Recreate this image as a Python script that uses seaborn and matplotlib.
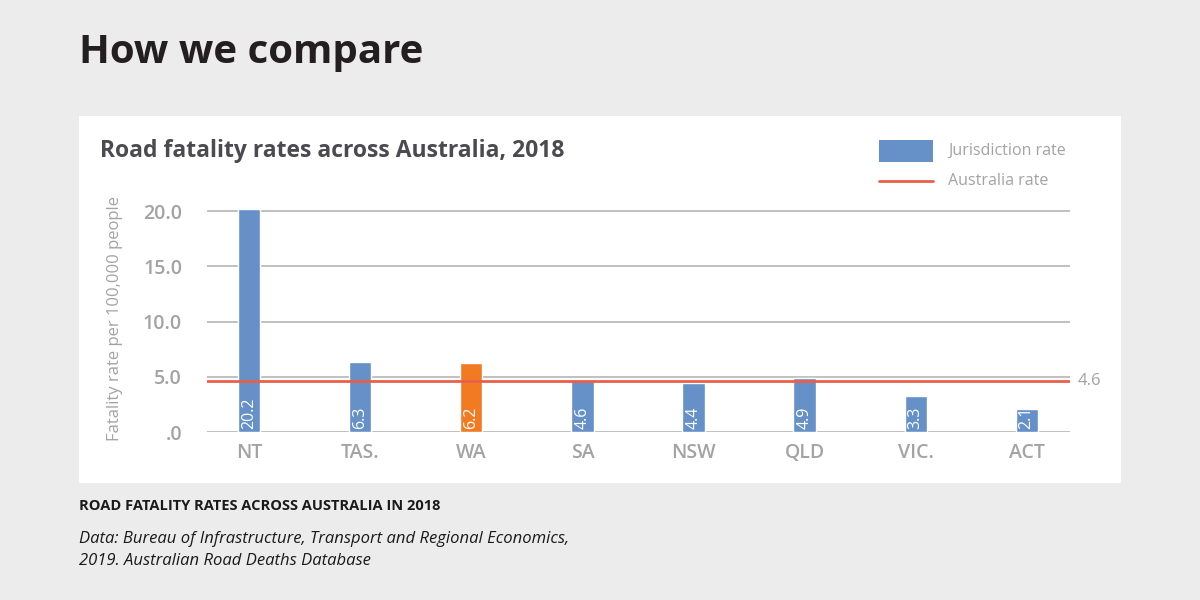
import seaborn as sns
import pandas as pd
import matplotlib.pyplot as plt
from matplotlib.patches import Rectangle
from matplotlib.lines import Line2D

# jurisdictions and 2018 road fatality rates per 100,000 people
states = ['NT', 'TAS.', 'WA', 'SA', 'NSW', 'QLD', 'VIC.', 'ACT']
rates = [20.2, 6.3, 6.2, 4.6, 4.4, 4.9, 3.3, 2.1]
australia_rate = 4.6
highlight = 'WA'

yticks = [0, 5, 10, 15, 20]
ytick_labels = ['.0', '5.0', '10.0', '15.0', '20.0']

BLUE = '#6590c8'
ORANGE = '#f27a23'
RED = '#e8604a'
GREY = '#a3a3a3'
BG = '#ececec'

sns.set_theme(style='white')
plt.rcParams['font.family'] = ['Open Sans', 'DejaVu Sans']

df = pd.DataFrame({'state': states, 'rate': rates})
palette = {s: (ORANGE if s == highlight else BLUE) for s in states}

fig = plt.figure(figsize=(12, 6), dpi=100, facecolor=BG)
# white card behind the chart
fig.patches.append(Rectangle((79 / 1200, 1 - 483 / 600), 1042 / 1200, 367 / 600,
                             transform=fig.transFigure, facecolor='white',
                             edgecolor='none', zorder=-10))

ax = fig.add_axes([0.1725, 0.28, 0.7192, 0.3775])
ax.set_zorder(2)
ax.set_facecolor('none')
sns.barplot(data=df, x='state', y='rate', hue='state', palette=palette,
            legend=False, width=0.2, saturation=1, ax=ax, zorder=3)

ax.set_xlim(-0.38, 7.39)
ax.set_ylim(0, 20.5)
ax.set_yticks(yticks)
ax.set_yticklabels(ytick_labels)
for y in yticks:
    ax.axhline(y, color='#b5b5b5', lw=1.2, zorder=1)
for s in ax.spines.values():
    s.set_visible(False)
ax.tick_params(axis='both', length=0, colors=GREY, labelsize=14)
ax.tick_params(axis='y', pad=18)
ax.tick_params(axis='x', pad=8)
for lab in ax.get_xticklabels() + ax.get_yticklabels():
    lab.set_fontweight('semibold')
ax.set_xlabel('')
ax.set_ylabel('Fatality rate per 100,000 people', color=GREY, fontsize=12, labelpad=14)

# australia rate line
ax.axhline(australia_rate, color=RED, lw=2, zorder=4)
ax.text(1.009, australia_rate, f'{australia_rate}', transform=ax.get_yaxis_transform(),
        color=GREY, fontsize=12, va='center', ha='left')

# value labels inside bars
for i, v in enumerate(rates):
    ax.text(i, 0.3, f'{v}', rotation=90, color='white', fontsize=11.5,
            ha='center', va='bottom', zorder=5)

# legend
fig.patches.append(Rectangle((879 / 1200, 1 - 162 / 600), 54 / 1200, 22 / 600,
                             transform=fig.transFigure, facecolor=BLUE, edgecolor='none'))
fig.lines.append(Line2D([879 / 1200, 933 / 1200], [1 - 181 / 600] * 2,
                        transform=fig.transFigure, color=RED, lw=2))
fig.text(948 / 1200, 1 - 151 / 600, 'Jurisdiction rate', color=GREY, fontsize=11.5, va='center')
fig.text(948 / 1200, 1 - 181 / 600, 'Australia rate', color=GREY, fontsize=11.5, va='center')

# titles and notes
fig.text(79 / 1200, 1 - 52 / 600, 'How we compare', fontsize=29, fontweight='bold',
         color='#231f20', va='center')
fig.text(100 / 1200, 1 - 151 / 600, 'Road fatality rates across Australia, 2018',
         fontsize=16.5, fontweight='bold', color='#4a4a50', va='center')
fig.text(79 / 1200, 1 - 506 / 600, 'ROAD FATALITY RATES ACROSS AUSTRALIA IN 2018',
         fontsize=10.5, fontweight='bold', color='#1a1a1a', va='center')
fig.text(79 / 1200, 1 - 539 / 600, 'Data: Bureau of Infrastructure, Transport and Regional Economics,',
         fontsize=12, style='italic', color='#1a1a1a', va='center')
fig.text(79 / 1200, 1 - 561 / 600, '2019. Australian Road Deaths Database',
         fontsize=12, style='italic', color='#1a1a1a', va='center')

fig.savefig('out.png', dpi=100, facecolor=BG)
